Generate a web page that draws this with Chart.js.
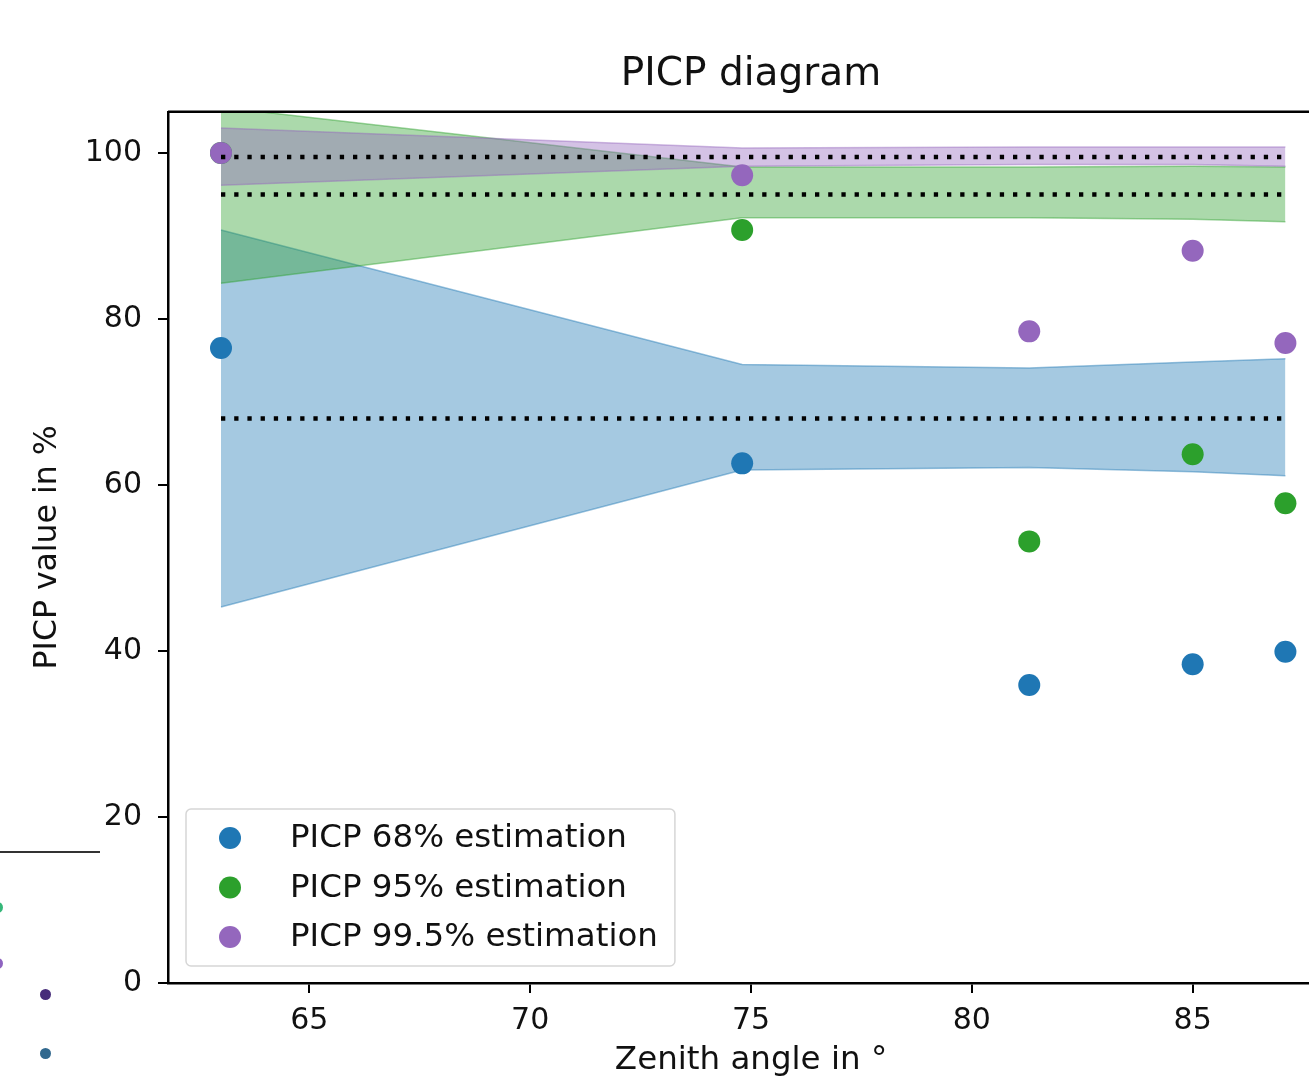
<!DOCTYPE html>
<html>
<head>
<meta charset="utf-8">
<title>PICP diagram</title>
<script src="https://cdn.jsdelivr.net/npm/chart.js@4.4.1/dist/chart.umd.min.js"></script>
<style>
  html, body { margin: 0; padding: 0; background: #fff; overflow: hidden; }
  #wrap { position: relative; width: 1360px; height: 1080px; }
  .bit { position: absolute; border-radius: 50%; }
</style>
</head>
<body>
<div id="wrap">
  <canvas id="chart" width="1360" height="1080"></canvas>
  <!-- edge of a neighbouring figure that was cropped into the picture -->
  <div style="position:absolute;left:0;top:851px;width:100px;height:1.5px;background:#333"></div>
  <div class="bit" style="left:-8px;top:902px;width:11px;height:11px;background:#35b779"></div>
  <div class="bit" style="left:-8px;top:958px;width:11px;height:11px;background:#8e63c0"></div>
  <div class="bit" style="left:40px;top:989px;width:11px;height:11px;background:#472c7a"></div>
  <div class="bit" style="left:40px;top:1048px;width:11px;height:11px;background:#31688e"></div>
</div>
<script>
// zenith angles of the evaluated bins
const zenith = [63.0, 74.8, 81.3, 85.0, 87.1];

// estimated PICP values
const picp68 = [76.5, 62.6, 35.9, 38.4, 39.9];
const picp95 = [100, 90.7, 53.2, 63.7, 57.8];
const picp995 = [100, 97.3, 78.5, 88.2, 77.1];

// confidence bands around the nominal values
const band68Low = [45.3, 61.8, 62.1, 61.6, 61.1];
const band68High = [90.7, 74.5, 74.1, 74.8, 75.2];
const band95Low = [84.3, 92.2, 92.2, 92.0, 91.7];
const band95High = [105.5, 98.3, 98.3, 98.4, 98.3];
const band995Low = [96.1, 98.4, 98.6, 98.6, 98.4];
const band995High = [103.0, 100.6, 100.7, 100.7, 100.7];

// nominal coverage levels (dotted lines)
const nominal = [68, 95, 99.5];

const xTicks = [65, 70, 75, 80, 85];
const yTicks = [0, 20, 40, 60, 80, 100];

const BLUE = '31, 119, 180', GREEN = '44, 160, 44', PURPLE = '148, 103, 189';
const FONT = '"DejaVu Sans", "Liberation Sans", sans-serif';

Chart.defaults.font.family = FONT;
Chart.defaults.color = '#000';

const pts = ys => zenith.map((x, i) => ({ x, y: ys[i] }));
const flat = v => [{ x: zenith[0], y: v }, { x: zenith[zenith.length - 1], y: v }];

function bandEdge(label, ys, rgb, fillTo, order) {
  return {
    label,
    data: pts(ys),
    showLine: true,
    pointRadius: 0,
    pointHoverRadius: 0,
    borderWidth: 1.5,
    borderColor: `rgba(${rgb}, 0.45)`,
    backgroundColor: `rgba(${rgb}, 0.4)`,
    fill: fillTo === null ? false : fillTo,
    tension: 0,
    order
  };
}

function estimate(label, ys, rgb, order) {
  return {
    label,
    data: pts(ys),
    showLine: false,
    pointRadius: 11,
    pointHoverRadius: 11,
    pointBorderWidth: 0,
    backgroundColor: `rgb(${rgb})`,
    borderColor: `rgb(${rgb})`,
    inLegend: true,
    order
  };
}

function nominalLine(v) {
  return {
    label: `nominal ${v}%`,
    data: flat(v),
    showLine: true,
    pointRadius: 0,
    pointHoverRadius: 0,
    borderColor: '#000',
    borderWidth: 4.5,
    borderDash: [4.3, 8.9],
    borderCapStyle: 'butt',
    fill: false,
    order: 0
  };
}

const datasets = [
  bandEdge('68% low', band68Low, BLUE, null, 6),     // 0
  bandEdge('68% high', band68High, BLUE, 0, 6),      // 1
  bandEdge('95% low', band95Low, GREEN, null, 5),    // 2
  bandEdge('95% high', band95High, GREEN, 2, 5),     // 3
  bandEdge('99.5% low', band995Low, PURPLE, null, 4),// 4
  bandEdge('99.5% high', band995High, PURPLE, 4, 4), // 5
  estimate('PICP 68% estimation', picp68, BLUE, 3),
  estimate('PICP 95% estimation', picp95, GREEN, 2),
  estimate('PICP 99.5% estimation', picp995, PURPLE, 1),
  ...nominal.map(nominalLine)
];

// top/right spines and a matplotlib-style legend box in the lower left
const frameAndLegend = {
  id: 'frameAndLegend',
  afterDraw(chart) {
    const { ctx, chartArea: a } = chart;
    ctx.save();
    ctx.strokeStyle = '#000';
    ctx.lineWidth = 2.5;
    ctx.beginPath();
    ctx.moveTo(a.left, a.top);
    ctx.lineTo(a.right, a.top);
    ctx.lineTo(a.right, a.bottom);
    ctx.stroke();

    const items = chart.data.datasets.filter(d => d.inLegend);
    ctx.font = '32.5px ' + FONT;
    const textW = Math.max(...items.map(d => ctx.measureText(d.label).width));
    const rowH = 49.5;
    const h = 58 + rowH * (items.length - 1);
    const w = 104 + textW + 17;
    const x0 = a.left + 18;
    const y0 = a.bottom - 17 - h;

    ctx.beginPath();
    ctx.roundRect(x0, y0, w, h, 5);
    ctx.fillStyle = 'rgba(255, 255, 255, 0.8)';
    ctx.fill();
    ctx.strokeStyle = '#d6d6d6';
    ctx.lineWidth = 1.5;
    ctx.stroke();

    ctx.textAlign = 'left';
    ctx.textBaseline = 'middle';
    items.forEach((d, i) => {
      const cy = y0 + 29 + i * rowH;
      ctx.beginPath();
      ctx.arc(x0 + 44, cy, 11, 0, Math.PI * 2);
      ctx.fillStyle = d.backgroundColor;
      ctx.fill();
      ctx.fillStyle = '#111';
      ctx.fillText(d.label, x0 + 104, cy + 1);
    });
    ctx.restore();
  }
};

new Chart(document.getElementById('chart'), {
  type: 'line',
  data: { datasets },
  options: {
    responsive: false,
    animation: false,
    devicePixelRatio: 1,
    layout: { padding: { left: 0, top: 0, right: 26, bottom: 0 } },
    plugins: {
      legend: { display: false },
      tooltip: { enabled: false },
      title: {
        display: true,
        text: 'PICP diagram',
        fullSize: false,
        color: '#111',
        font: { size: 39, weight: 'normal' },
        padding: { top: 51, bottom: 14 }
      }
    },
    scales: {
      x: {
        type: 'linear',
        min: 61.8,
        max: 88.2,
        afterFit: s => { s.height = 97; },
        afterBuildTicks: s => { s.ticks = xTicks.map(v => ({ value: v })); },
        grid: { drawOnChartArea: false, drawTicks: true, tickLength: 10, color: '#000', lineWidth: 2 },
        border: { display: true, color: '#000', width: 2.5 },
        ticks: { font: { size: 30 }, color: '#111', padding: 10, maxRotation: 0 },
        title: {
          display: true,
          text: 'Zenith angle in °',
          color: '#111',
          font: { size: 32.5 },
          padding: { top: 0, bottom: 0 }
        }
      },
      y: {
        type: 'linear',
        min: 0,
        max: 104.95,
        afterFit: s => { s.width = 168; },
        afterBuildTicks: s => { s.ticks = yTicks.map(v => ({ value: v })); },
        grid: { drawOnChartArea: false, drawTicks: true, tickLength: 10, color: '#000', lineWidth: 2 },
        border: { display: true, color: '#000', width: 2.5 },
        ticks: { font: { size: 30 }, color: '#111', padding: 16 },
        title: {
          display: true,
          text: 'PICP value in %',
          color: '#111',
          font: { size: 31.5 },
          padding: { top: 29, bottom: 0 }
        }
      }
    }
  },
  plugins: [frameAndLegend]
});
</script>
</body>
</html>
